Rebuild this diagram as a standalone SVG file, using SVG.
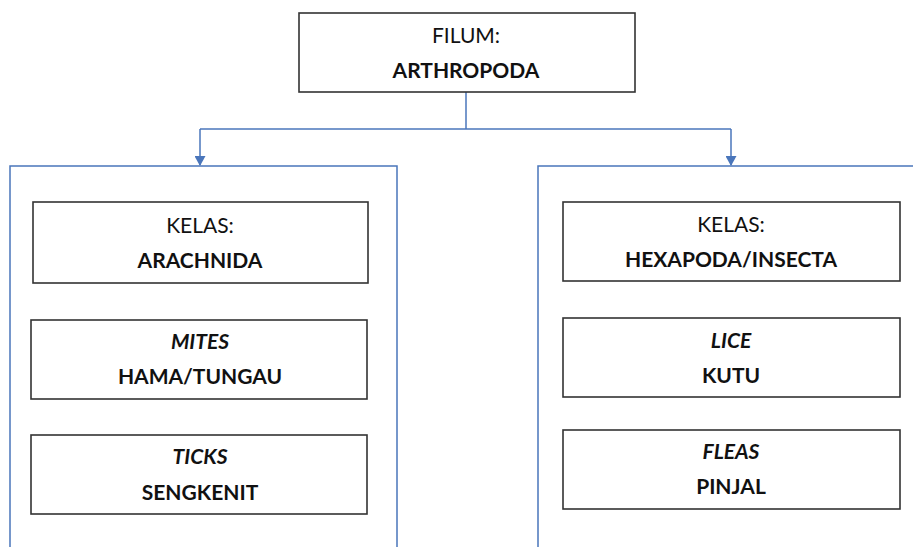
<svg xmlns="http://www.w3.org/2000/svg" width="913" height="547" viewBox="0 0 913 547">
<style>
.box{fill:#fff;stroke:#333;stroke-width:1.6}
.cont{fill:none;stroke:#4a76bb;stroke-width:1.5}
.conn{fill:none;stroke:#4a76bb;stroke-width:1.5}
text{font-family:Lato,"Open Sans","Liberation Sans",sans-serif;font-size:21px;fill:#111;text-anchor:middle}
.b{font-weight:bold}
.i{font-style:italic;font-weight:bold}
</style>
<defs>
<marker id="arr" markerWidth="11" markerHeight="11" refX="9" refY="5.5" orient="auto" markerUnits="userSpaceOnUse">
<path d="M0,0 L10,5.5 L0,11 Z" fill="#4a76bb"/>
</marker>
</defs>
<rect width="913" height="547" fill="#fff"/>
<g id="connectors">
<path class="conn" d="M466,92 V129"/>
<path class="conn" d="M200,129 H731"/>
<path class="conn" d="M200,129 V165" marker-end="url(#arr)"/>
<path class="conn" d="M731,129 V165" marker-end="url(#arr)"/>
</g>
<g id="filum">
<rect class="box" x="299" y="13" width="336" height="79"/>
<text x="466" y="43">FILUM:</text>
<text class="b" x="466" y="78">ARTHROPODA</text>
</g>
<g id="group-arachnida">
<path class="cont" d="M10,547 V166 H397 V547"/>
</g>
<g id="group-insecta">
<path class="cont" d="M538,547 V166 H913"/>
</g>
<g id="arachnida">
<rect class="box" x="33" y="202" width="335" height="81"/>
<text x="200" y="233">KELAS:</text>
<text class="b" x="200" y="268">ARACHNIDA</text>
</g>
<g id="mites">
<rect class="box" x="31" y="320" width="336" height="79"/>
<text class="i" x="200" y="349">MITES</text>
<text class="b" x="200" y="384">HAMA/TUNGAU</text>
</g>
<g id="ticks">
<rect class="box" x="31" y="435" width="336" height="79"/>
<text class="i" x="200" y="464">TICKS</text>
<text class="b" x="200" y="500">SENGKENIT</text>
</g>
<g id="insecta">
<rect class="box" x="563" y="202" width="337" height="79"/>
<text x="731" y="232">KELAS:</text>
<text class="b" x="731" y="267">HEXAPODA/INSECTA</text>
</g>
<g id="lice">
<rect class="box" x="563" y="318" width="337" height="79"/>
<text class="i" x="731" y="348">LICE</text>
<text class="b" x="731" y="383">KUTU</text>
</g>
<g id="fleas">
<rect class="box" x="563" y="430" width="337" height="79"/>
<text class="i" x="731" y="459">FLEAS</text>
<text class="b" x="731" y="494">PINJAL</text>
</g>
</svg>
